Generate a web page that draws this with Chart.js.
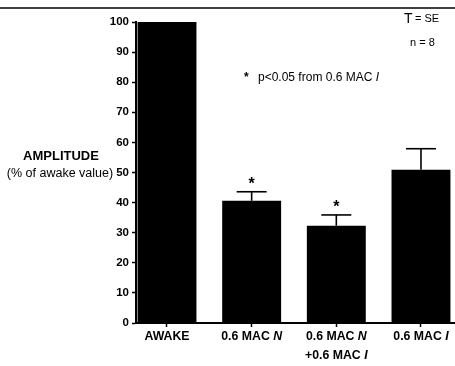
<!DOCTYPE html>
<html><head><meta charset="utf-8">
<script src="https://cdn.jsdelivr.net/npm/chart.js@4/dist/chart.umd.min.js"></script>
<style>html,body{margin:0;padding:0;background:#fff}#wrap{width:455px;height:366px}</style>
</head><body><div id="wrap"><canvas id="c" width="455" height="366"></canvas></div>
<script>
const categories = [["AWAKE"], ["0.6 MAC ", "N"], ["0.6 MAC ", "N", "+0.6 MAC ", "I"], ["0.6 MAC ", "I"]];
const positions = [0, 1, 2, 3];
const amplitude = [100, 40.6, 32.3, 50.9];
const seUpper = [0, 3.0, 3.6, 7.0];
const significant = [false, true, true, false];
const yTickLabels = [0, 10, 20, 30, 40, 50, 60, 70, 80, 90, 100];

const FONT = "'Liberation Sans', Arial, sans-serif";

function mixed(ctx, parts, cx, y, size) {
  let w = 0;
  parts.forEach(p => { ctx.font = (p[1] ? 'italic ' : '') + 'bold ' + size + 'px ' + FONT; w += ctx.measureText(p[0]).width; });
  let x = cx - w / 2;
  parts.forEach(p => { ctx.font = (p[1] ? 'italic ' : '') + 'bold ' + size + 'px ' + FONT; ctx.fillText(p[0], x, y); x += ctx.measureText(p[0]).width; });
}

const deco = {
  id: 'deco',
  afterDatasetsDraw(chart) {
    const ctx = chart.ctx, xs = chart.scales.x, ys = chart.scales.y;
    ctx.save();
    ctx.fillStyle = '#000'; ctx.strokeStyle = '#000';
    amplitude.forEach((v, i) => {
      if (!seUpper[i]) return;
      const cx = xs.getPixelForValue(positions[i]);
      const y0 = ys.getPixelForValue(v), y1 = ys.getPixelForValue(v + seUpper[i]);
      ctx.lineWidth = 1.6;
      ctx.beginPath(); ctx.moveTo(cx, y0); ctx.lineTo(cx, y1); ctx.stroke();
      ctx.beginPath(); ctx.moveTo(cx - 15, y1); ctx.lineTo(cx + 15, y1); ctx.stroke();
      if (significant[i]) {
        ctx.font = 'bold 16px ' + FONT; ctx.textAlign = 'center'; ctx.textBaseline = 'middle';
        ctx.fillText('*', cx, y1 - 7);
      }
    });
    ctx.textAlign = 'left'; ctx.textBaseline = 'middle';
    categories.forEach((c, i) => {
      const cx = xs.getPixelForValue(positions[i]);
      if (c.length === 1) mixed(ctx, [[c[0], false]], cx, 337, 12.3);
      else if (c.length === 2) mixed(ctx, [[c[0], false], [c[1], true]], cx, 337, 12.3);
      else { mixed(ctx, [[c[0], false], [c[1], true]], cx, 337, 12.3); mixed(ctx, [[c[2], false], [c[3], true]], cx, 356, 12.3); }
    });
    ctx.textAlign = 'center';
    ctx.font = 'bold 13px ' + FONT; ctx.fillText('AMPLITUDE', 61, 156);
    ctx.font = '12.5px ' + FONT; ctx.fillText('(% of awake value)', 60, 174);
    ctx.textAlign = 'left';
    ctx.font = '12px ' + FONT; ctx.fillText('p<0.05 from 0.6 MAC ', 258, 78);
    const w = ctx.measureText('p<0.05 from 0.6 MAC ').width;
    ctx.font = 'italic 12px ' + FONT; ctx.fillText('I', 258 + w, 78);
    ctx.font = 'bold 12px ' + FONT; ctx.fillText('*', 244, 78);
    ctx.font = '14px ' + FONT; ctx.fillText('T', 404, 19);
    ctx.font = '11px ' + FONT; ctx.fillText('= SE', 415, 19);
    ctx.fillText('n = 8', 410, 43);
    ctx.lineWidth = 1.5;
    ctx.beginPath(); ctx.moveTo(0, 8); ctx.lineTo(455, 8); ctx.stroke();
    ctx.restore();
  }
};

new Chart(document.getElementById('c'), {
  type: 'bar',
  data: {
    datasets: [{
      data: positions.map((p, i) => ({ x: p, y: amplitude[i] })),
      backgroundColor: '#000', borderWidth: 0,
      categoryPercentage: 1, barPercentage: 0.696
    }]
  },
  options: {
    responsive: false, animation: false,
    layout: { padding: { top: 22, right: 1, left: 0, bottom: 0 } },
    plugins: { legend: { display: false }, tooltip: { enabled: false } },
    scales: {
      x: {
        type: 'linear', min: -0.366, max: 3.39, offset: false,
        afterBuildTicks: a => { a.ticks = positions.map(v => ({ value: v })); },
        afterFit: a => { a.height = 43; },
        ticks: { display: false },
        grid: { offset: false, drawOnChartArea: false, tickLength: 4, color: '#000', tickColor: '#000', tickWidth: 1.5 },
        border: { display: true, color: '#000', width: 2 }
      },
      y: {
        min: 0, max: 100,
        afterBuildTicks: a => { const t = []; for (let v = 0; v <= 100; v += 5) t.push({ value: v }); a.ticks = t; },
        afterFit: a => { a.width = 136; },
        ticks: {
          color: '#000', padding: 3,
          font: { family: FONT, size: 11.5, weight: 'bold' },
          callback: v => yTickLabels.includes(v) ? String(v) : ''
        },
        grid: { drawOnChartArea: false, tickLength: 4, color: '#000', tickColor: '#000',
                tickWidth: c => (c.tick && c.tick.value % 10 === 0) ? 1.5 : 1 },
        border: { display: true, color: '#000', width: 2 }
      }
    }
  },
  plugins: [deco]
});
</script></body></html>
